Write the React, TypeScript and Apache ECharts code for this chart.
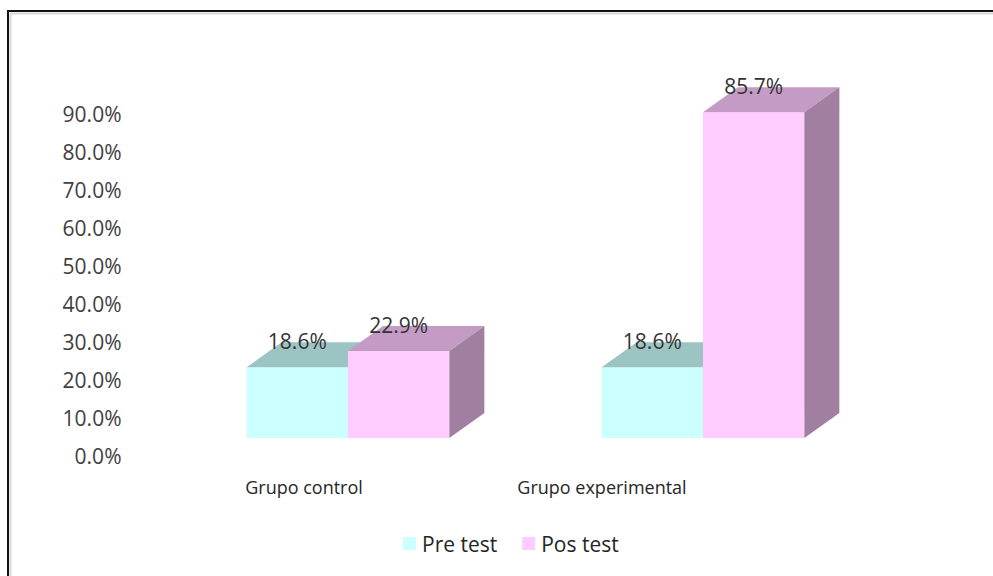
import React, { useEffect, useRef } from "react";
import * as echarts from "echarts";

const categories = ["Grupo control", "Grupo experimental"];
const seriesNames = ["Pre test", "Pos test"];
const preTest = [18.6, 18.6];
const posTest = [22.9, 85.7];
const yTicks = [0, 10, 20, 30, 40, 50, 60, 70, 80, 90];

const LABEL_FONT = "'Open Sans', sans-serif";
const CAT_FONT = "'Open Sans', sans-serif";

const FRONT_DY = -17.5;
const DEPTH_DX = 35;
const DEPTH_DY = -25;
const BAR_FRAC = 0.2855;

function makeRender(side: number, front: string, top: string, sideColor: string | null) {
  return (params: any, api: any) => {
    const cat = api.value(0);
    const val = api.value(1);
    const base = api.coord([cat, 0]);
    const topPt = api.coord([cat, val]);
    const band = api.size([1, 0])[0];
    const bw = band * BAR_FRAC;
    const cx = base[0];
    const x0 = side < 0 ? cx - bw : cx;
    const x1 = x0 + bw;
    const yb = base[1] + FRONT_DY;
    const yt = topPt[1] + FRONT_DY;
    const children: any[] = [
      {
        type: "rect",
        shape: { x: x0, y: yt, width: bw, height: yb - yt },
        style: { fill: front },
      },
      {
        type: "polygon",
        shape: {
          points: [
            [x0, yt],
            [x1, yt],
            [x1 + DEPTH_DX, yt + DEPTH_DY],
            [x0 + DEPTH_DX, yt + DEPTH_DY],
          ],
        },
        style: { fill: top },
      },
    ];
    if (sideColor) {
      children.push({
        type: "polygon",
        shape: {
          points: [
            [x1, yt],
            [x1 + DEPTH_DX, yt + DEPTH_DY],
            [x1 + DEPTH_DX, yb + DEPTH_DY],
            [x1, yb],
          ],
        },
        style: { fill: sideColor },
      });
    }
    children.push({
      type: "text",
      z2: 100,
      style: {
        x: (x0 + x1) / 2,
        y: yt + DEPTH_DY - 1,
        text: val.toFixed(1) + "%",
        fill: "#333333",
        font: "21px " + LABEL_FONT,
        align: "center",
        verticalAlign: "middle",
      },
    });
    return { type: "group", children };
  };
}

export default function App() {
  const ref = useRef<HTMLDivElement>(null);
  useEffect(() => {
    if (!ref.current) return;
    const chart = echarts.init(ref.current, null, { renderer: "svg" });
    chart.setOption({
      animation: false,
      backgroundColor: "#ffffff",
      grid: { left: 170.5, right: 112.5, top: 113.5, bottom: 120.5 },
      xAxis: {
        type: "category",
        data: categories,
        axisLine: { show: false },
        axisTick: { show: false },
        axisLabel: {
          margin: 22,
          formatter: (v: string) => (v === categories[0] ? "{a|" + v + "}" : "{b|" + v + "}"),
          rich: {
            a: { fontFamily: CAT_FONT, fontSize: 18, color: "#262626", padding: [0, 88, 0, 0] },
            b: { fontFamily: CAT_FONT, fontSize: 18, color: "#262626", padding: [0, 202, 0, 0] },
          },
        },
      },
      yAxis: {
        type: "value",
        min: yTicks[0],
        max: yTicks[yTicks.length - 1],
        interval: 10,
        axisLine: { show: false },
        axisTick: { show: false },
        splitLine: { show: false },
        axisLabel: {
          margin: 49,
          fontFamily: LABEL_FONT,
          fontSize: 21,
          color: "#404040",
          formatter: (v: number) => v.toFixed(1) + "%",
        },
      },
      legend: {
        data: seriesNames,
        top: 533,
        left: 403,
        padding: 0,
        icon: "rect",
        itemWidth: 13,
        itemHeight: 13,
        itemGap: 25,
        textStyle: { fontFamily: CAT_FONT, fontSize: 21, color: "#262626", padding: [0, 0, 0, 1] },
      },
      graphic: [
        { type: "line", shape: { x1: 10, y1: 13.5, x2: 993, y2: 13.5 }, style: { stroke: "#d8d8d8", lineWidth: 2 } },
        { type: "line", shape: { x1: 10.5, y1: 13, x2: 10.5, y2: 576 }, style: { stroke: "#d8d8d8", lineWidth: 2 } },
        { type: "line", shape: { x1: 7, y1: 11, x2: 993, y2: 11 }, style: { stroke: "#111111", lineWidth: 2 } },
        { type: "line", shape: { x1: 8, y1: 10, x2: 8, y2: 576 }, style: { stroke: "#111111", lineWidth: 2 } },
      ],
      series: [
        {
          name: seriesNames[0],
          type: "custom",
          itemStyle: { color: "#CCFFFF" },
          renderItem: makeRender(-1, "#CCFFFF", "#9BC4C3", null),
          data: preTest.map((v, i) => [i, v]),
          z: 2,
        },
        {
          name: seriesNames[1],
          type: "custom",
          itemStyle: { color: "#FFCCFF" },
          renderItem: makeRender(1, "#FFCCFF", "#C39BC4", "#A07FA0"),
          data: posTest.map((v, i) => [i, v]),
          z: 3,
        },
      ],
    });
    return () => chart.dispose();
  }, []);
  return (
    <div
      ref={ref}
      style={{ position: "fixed", left: 0, top: 0, width: 993, height: 576 }}
    />
  );
}
